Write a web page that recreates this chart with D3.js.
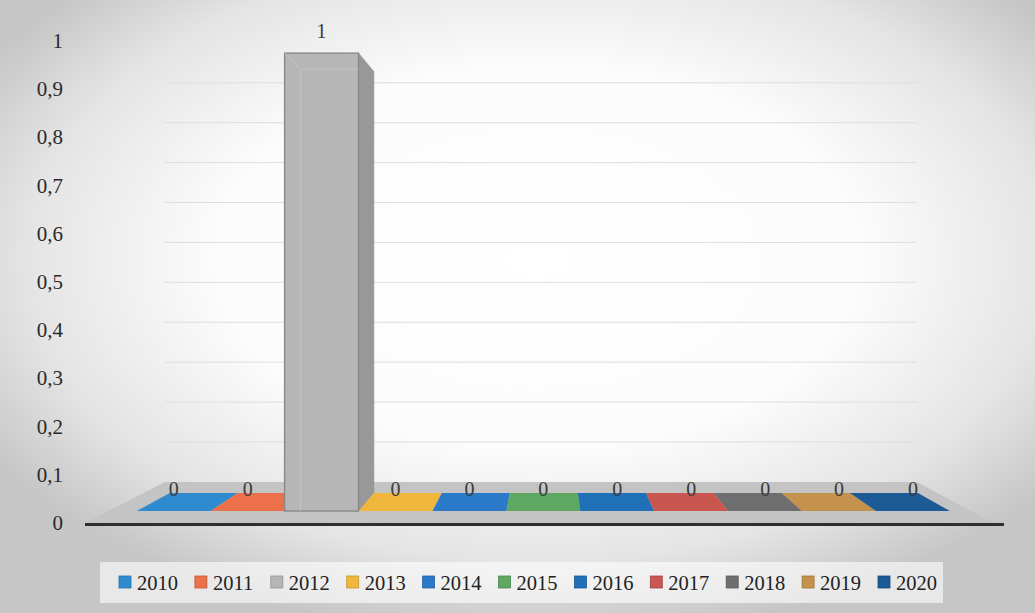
<!DOCTYPE html>
<html>
<head>
<meta charset="utf-8">
<script src="https://cdn.jsdelivr.net/npm/d3@7"></script>
<style>
  html, body { margin: 0; padding: 0; background: #fff; }
  svg { display: block; }
  text { font-family: "Liberation Serif", "Times New Roman", Tinos, "DejaVu Serif", serif; }
</style>
</head>
<body>
<svg id="chart" width="1035" height="613"></svg>
<script>
// ---------- data ----------
const categories = ["2010","2011","2012","2013","2014","2015","2016","2017","2018","2019","2020"];
const values     = [0, 0, 1, 0, 0, 0, 0, 0, 0, 0, 0];
const colors     = ["#2f8bd0","#ec7049","#b6b6b6","#f1b73c","#2b79c9","#5ea862","#1f70b6","#c9564f","#6e6e6e","#c4924c","#1d5b96"];
const yTicks      = [0, 0.1, 0.2, 0.3, 0.4, 0.5, 0.6, 0.7, 0.8, 0.9, 1];
const yTickLabels = ["0","0,1","0,2","0,3","0,4","0,5","0,6","0,7","0,8","0,9","1"];

// ---------- setup ----------
const W = 1035, H = 613;
const svg = d3.select("#chart");

// front-plane scales
const x = d3.scaleBand().domain(categories).range([115, 971]).padding(0);
const y = d3.scaleLinear().domain([0, 1]).range([523, 41]);

// simple perspective: vanishing point and depth factors
const VP = [550, 284];
const S_FLOOR_FRONT = 1.0, S_BAR_FRONT = 0.95, S_BAR_BACK = 0.874, S_BACK = 0.828;
const proj = (px, py, s) => [VP[0] + (px - VP[0]) * s, VP[1] + (py - VP[1]) * s];
const pts = arr => arr.map(p => p.join(",")).join(" ");

// ---------- background ----------
const defs = svg.append("defs");
const rg = defs.append("radialGradient").attr("id", "bg")
  .attr("cx", "52%").attr("cy", "42%").attr("r", "62%")
  .attr("fx", "52%").attr("fy", "42%");
rg.append("stop").attr("offset", "0%").attr("stop-color", "#ffffff");
rg.append("stop").attr("offset", "50%").attr("stop-color", "#fcfcfc");
rg.append("stop").attr("offset", "80%").attr("stop-color", "#e4e4e4");
rg.append("stop").attr("offset", "100%").attr("stop-color", "#c6c6c6");
svg.append("rect").attr("width", W).attr("height", H).attr("fill", "url(#bg)");

// ---------- back-wall gridlines ----------
const [x0, x1] = x.range();
const floorL = x0 - 30, floorR = x1 + 22;
svg.append("g").selectAll("line")
  .data(yTicks.filter(v => v > 0))
  .join("line")
  .attr("x1", d => proj(floorL, y(d), S_BACK)[0])
  .attr("x2", d => proj(floorR, y(d), S_BACK)[0])
  .attr("y1", d => proj(floorL, y(d), S_BACK)[1])
  .attr("y2", d => proj(floorR, y(d), S_BACK)[1])
  .attr("stroke", "#dedede").attr("stroke-width", 1);

// ---------- floor ----------
const floorPoly = [
  proj(floorL, y(0), S_FLOOR_FRONT),
  proj(floorR, y(0), S_FLOOR_FRONT),
  proj(floorR, y(0), S_BACK),
  proj(floorL, y(0), S_BACK)
];
svg.append("polygon").attr("points", pts(floorPoly)).attr("fill", "#c4c4c4");

// ---------- bars ----------
const gBars = svg.append("g");
categories.forEach((c, i) => {
  const v = values[i];
  const L = x(c), R = x(c) + x.bandwidth();
  const yb = y(0), yt = y(v);
  const col = colors[i];
  const g = gBars.append("g");
  if (v === 0) {
    g.append("polygon")
      .attr("points", pts([proj(L, yb, S_BAR_FRONT), proj(R, yb, S_BAR_FRONT),
                           proj(R, yb, S_BAR_BACK), proj(L, yb, S_BAR_BACK)]))
      .attr("fill", col);
  } else {
    const fTL = proj(L, yt, S_BAR_FRONT), fTR = proj(R, yt, S_BAR_FRONT);
    const fBL = proj(L, yb, S_BAR_FRONT), fBR = proj(R, yb, S_BAR_FRONT);
    const bTR = proj(R, yt, S_BAR_BACK), bBR = proj(R, yb, S_BAR_BACK);
    const bTL = proj(L, yt, S_BAR_BACK), bBL = proj(L, yb, S_BAR_BACK);
    const baseCol = d3.color(col);
    if (R < VP[0]) {
      g.append("polygon").attr("points", pts([fTR, bTR, bBR, fBR]))
        .attr("fill", baseCol.darker(0.5)).attr("stroke", baseCol.darker(0.7)).attr("stroke-width", 0.6);
    }
    if (L > VP[0]) {
      g.append("polygon").attr("points", pts([fTL, bTL, bBL, fBL]))
        .attr("fill", baseCol.darker(0.5));
    }
    g.append("rect")
      .attr("x", fTL[0]).attr("y", fTL[1])
      .attr("width", fTR[0] - fTL[0]).attr("height", fBL[1] - fTL[1])
      .attr("fill", col).attr("stroke", baseCol.darker(0.8)).attr("stroke-width", 1.4);
    // subtle bevel lines
    const inset = 16;
    const bevel = baseCol.brighter(0.2);
    g.append("path")
      .attr("d", `M${fTL[0] + inset},${fBL[1]} V${fTL[1] + inset} H${fTR[0]}`)
      .attr("fill", "none").attr("stroke", bevel).attr("stroke-width", 1);
    g.append("line")
      .attr("x1", fTL[0]).attr("y1", fTL[1]).attr("x2", fTL[0] + inset).attr("y2", fTL[1] + inset)
      .attr("stroke", bevel).attr("stroke-width", 1);
  }
  const lp = proj((L + R) / 2, yt, S_BAR_FRONT);
  svg.append("text")
    .attr("x", lp[0]).attr("y", lp[1] - 15)
    .attr("text-anchor", "middle")
    .attr("font-size", 20)
    .attr("fill", "#3a3a3a")
    .text(String(v));
});

// ---------- value axis labels ----------
svg.append("g").selectAll("text")
  .data(yTicks)
  .join("text")
  .attr("x", 63)
  .attr("y", d => y(d) + 7)
  .attr("text-anchor", "end")
  .attr("font-size", 21)
  .attr("fill", "#2a2a2a")
  .text((d, i) => yTickLabels[i]);

// ---------- category axis line ----------
svg.append("line")
  .attr("x1", floorL).attr("x2", floorR + 11)
  .attr("y1", y(0) + 1.5).attr("y2", y(0) + 1.5)
  .attr("stroke", "#2e2e2e").attr("stroke-width", 3);

// ---------- legend ----------
const legX0 = 119, legStep = 75.9, legY = 582;
svg.append("rect").attr("x", 100).attr("y", 562).attr("width", 843).attr("height", 41)
  .attr("fill", "#ffffff").attr("opacity", 0.6);
const leg = svg.append("g").selectAll("g")
  .data(categories)
  .join("g")
  .attr("transform", (d, i) => `translate(${legX0 + i * legStep},${legY})`);
leg.append("rect")
  .attr("x", 0).attr("y", -6).attr("width", 12).attr("height", 12)
  .attr("fill", (d, i) => colors[i])
  .attr("stroke", (d, i) => d3.color(colors[i]).darker(0.6)).attr("stroke-width", 0.8);
leg.append("text")
  .attr("x", 18).attr("y", 7.5)
  .attr("font-size", 20.5)
  .attr("fill", "#222")
  .text(d => d);
</script>
</body>
</html>
